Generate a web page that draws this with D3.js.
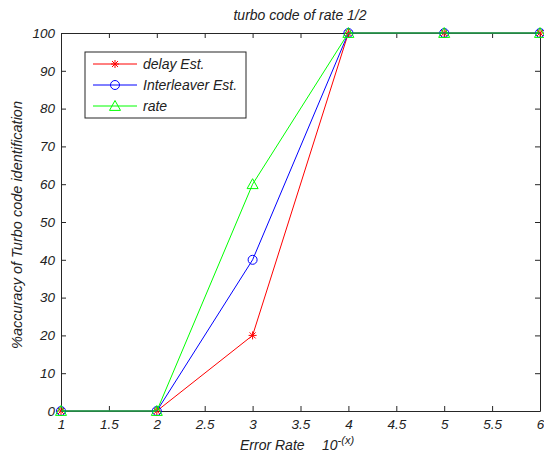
<!DOCTYPE html>
<html><head><meta charset="utf-8">
<script src="https://cdn.jsdelivr.net/npm/d3@7"></script>
<style>body{margin:0;background:#fff}text{font-family:Arial,"Liberation Sans",sans-serif;font-style:italic}</style>
</head><body><svg id="c" width="544" height="459"></svg>
<script>
const xValues = [1, 2, 3, 4, 5, 6];
const delayEst = [0, 0, 20, 100, 100, 100];
const interleaverEst = [0, 0, 40, 100, 100, 100];
const rateEst = [0, 0, 60, 100, 100, 100];
const xTicks = [1, 1.5, 2, 2.5, 3, 3.5, 4, 4.5, 5, 5.5, 6];
const yTicks = [0, 10, 20, 30, 40, 50, 60, 70, 80, 90, 100];
const seriesNames = ["delay Est.", "Interleaver Est.", "rate"];

const L = 61, R = 540, T = 33, B = 411;
const svg = d3.select("#c");
const x = d3.scaleLinear().domain([1, 6]).range([L, R]);
const y = d3.scaleLinear().domain([0, 100]).range([B, T]);
const axisCol = "#262626";
const fmt = d => String(d);

// axes
const gx = svg.append("g").attr("transform", `translate(0,${B})`)
  .call(d3.axisBottom(x).tickValues(xTicks).tickFormat(fmt).tickSizeInner(-5).tickSizeOuter(0).tickPadding(8));
const gxt = svg.append("g").attr("transform", `translate(0,${T})`)
  .call(d3.axisTop(x).tickValues(xTicks).tickFormat("").tickSizeInner(-5).tickSizeOuter(0));
const gy = svg.append("g").attr("transform", `translate(${L},0)`)
  .call(d3.axisLeft(y).tickValues(yTicks).tickFormat(fmt).tickSizeInner(-5).tickSizeOuter(0).tickPadding(6));
const gyr = svg.append("g").attr("transform", `translate(${R},0)`)
  .call(d3.axisRight(y).tickValues(yTicks).tickFormat("").tickSizeInner(-5).tickSizeOuter(0));
[gx, gxt, gy, gyr].forEach(g => {
  g.selectAll("path,line").attr("stroke", axisCol);
  g.selectAll("text").attr("fill", "#222").style("font-size", "13.5px").style("font-style", "italic");
});

const series = [
  {name: seriesNames[0], vals: delayEst, color: "#ff0000", marker: "star"},
  {name: seriesNames[1], vals: interleaverEst, color: "#0000ff", marker: "circle"},
  {name: seriesNames[2], vals: rateEst, color: "#00ff00", marker: "triangle"}
];

function drawMarker(g, type, cx, cy, color) {
  if (type === "circle") {
    g.append("circle").attr("cx", cx).attr("cy", cy).attr("r", 4.5).attr("fill", "none").attr("stroke", color).attr("stroke-width", 1);
  } else if (type === "triangle") {
    const s = 5.5;
    g.append("path").attr("d", `M${cx},${cy - s}L${cx + s},${cy + s * 0.8}L${cx - s},${cy + s * 0.8}Z`)
      .attr("fill", "none").attr("stroke", color).attr("stroke-width", 1);
  } else {
    const s = 4;
    g.append("path").attr("d", `M${cx - s},${cy}L${cx + s},${cy}M${cx},${cy - s}L${cx},${cy + s}M${cx - 3},${cy - 3}L${cx + 3},${cy + 3}M${cx - 3},${cy + 3}L${cx + 3},${cy - 3}`)
      .attr("stroke", color).attr("stroke-width", 1);
  }
}

const line = d3.line().x((d, i) => x(xValues[i])).y(d => y(d));
series.forEach(s => {
  const g = svg.append("g");
  g.append("path").datum(s.vals).attr("d", line).attr("fill", "none").attr("stroke", s.color).attr("stroke-width", 1);
  s.vals.forEach((v, i) => drawMarker(g, s.marker, x(xValues[i]), y(v), s.color));
});

// legend
const lg = svg.append("g");
lg.append("rect").attr("x", 85).attr("y", 52).attr("width", 161).attr("height", 66).attr("fill", "#fff").attr("stroke", axisCol);
series.forEach((s, i) => {
  const ly = 64 + i * 21;
  lg.append("line").attr("x1", 93).attr("x2", 137).attr("y1", ly).attr("y2", ly).attr("stroke", s.color);
  drawMarker(lg, s.marker, 115, ly, s.color);
  lg.append("text").attr("x", 143).attr("y", ly + 5).text(s.name).style("font-size", "14px").attr("fill", "#222");
});

// title & labels
svg.append("text").attr("x", 300).attr("y", 20).attr("text-anchor", "middle").style("font-size", "14px").attr("fill", "#222").text("turbo code of rate 1/2");
svg.append("text").attr("x", 240).attr("y", 450).style("font-size", "14px").attr("fill", "#222").text("Error Rate");
const xl = svg.append("text").attr("x", 322).attr("y", 450).style("font-size", "14px").attr("fill", "#222");
xl.append("tspan").text("10");
xl.append("tspan").attr("dy", -6).style("font-size", "11px").text("-(x)");
svg.append("text").attr("transform", "translate(22,225) rotate(-90)").attr("text-anchor", "middle").style("font-size", "14.5px").attr("fill", "#222").text("%accuracy of Turbo code identification");
</script></body></html>
